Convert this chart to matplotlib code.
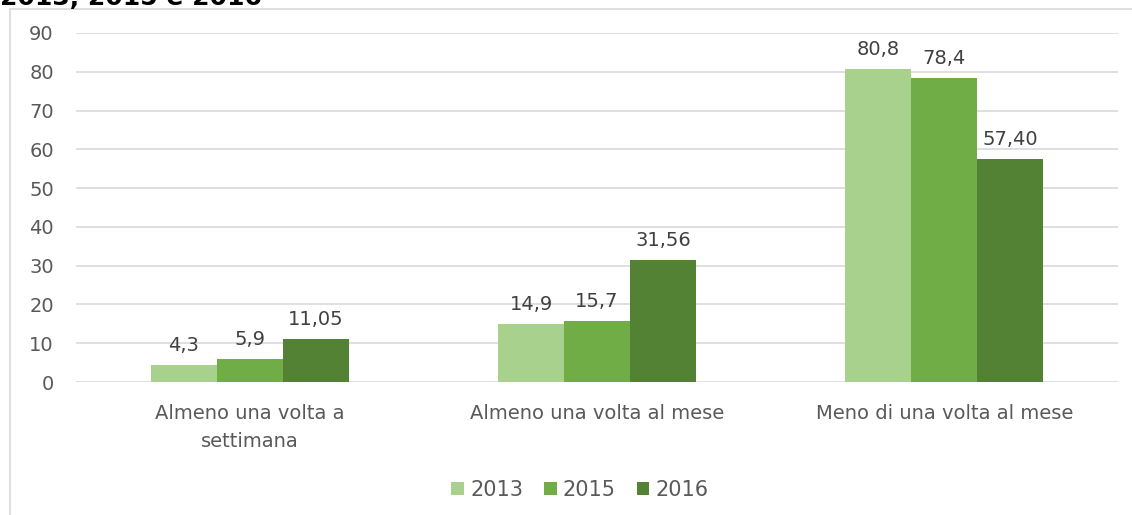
import matplotlib
matplotlib.use("Agg")
import matplotlib.pyplot as plt
from matplotlib.patches import Rectangle
import numpy as np

categories = ["Almeno una volta a\nsettimana", "Almeno una volta al mese", "Meno di una volta al mese"]
years = ["2013", "2015", "2016"]
v2013 = [4.3, 14.9, 80.8]
v2015 = [5.9, 15.7, 78.4]
v2016 = [11.05, 31.56, 57.40]
labels2013 = ["4,3", "14,9", "80,8"]
labels2015 = ["5,9", "15,7", "78,4"]
labels2016 = ["11,05", "31,56", "57,40"]
colors = ["#A9D18E", "#70AD47", "#548235"]

plt.rcParams['font.family'] = ['DejaVu Sans']
fig = plt.figure(figsize=(11.32, 5.15), dpi=100)

# chart frame
fig.patches.append(Rectangle((10/1132, -0.01), 1.2, 1 - 9/515 + 0.01, transform=fig.transFigure,
                             fill=False, edgecolor="#D9D9D9", linewidth=1.2))
fig.text(0.0, 1.0 - 5/515, "2013, 2015 e 2016", fontsize=18, fontweight="bold", color="#000000",
         ha="left", va="baseline")

ax = fig.add_axes([76/1132, 1 - 382/515, (1118 - 76)/1132, (382 - 33)/515])
x = np.arange(len(categories))
w = 0.19
series = [v2013, v2015, v2016]
lbls = [labels2013, labels2015, labels2016]
for i, (vals, lab, c, y) in enumerate(zip(series, lbls, colors, years)):
    bars = ax.bar(x + (i - 1) * w, vals, width=w, color=c, label=y, zorder=3)
    for b, t in zip(bars, lab):
        ax.text(b.get_x() + b.get_width() / 2, b.get_height() + 2.6, t, ha="center", va="bottom",
                fontsize=14, color="#404040")

ax.set_xlim(-0.5, 2.5)
ax.set_ylim(0, 90)
ax.set_yticks(range(0, 91, 10))
ax.yaxis.grid(True, color="#D9D9D9", linewidth=1.2, zorder=0)
ax.set_axisbelow(True)
for s in ax.spines.values():
    s.set_visible(False)
ax.tick_params(axis="both", length=0, labelsize=14, colors="#595959")
ax.tick_params(axis="y", pad=16)
ax.set_xticks(x)
ax.set_xticklabels(categories, fontsize=14, color="#595959", linespacing=1.6)
ax.tick_params(axis="x", pad=16)

leg = fig.legend(loc="center", bbox_to_anchor=(580/1132, 1 - 490/515), ncol=3, frameon=False,
                 fontsize=15, handlelength=0.6, handleheight=0.6, handletextpad=0.3, columnspacing=1.0,
                 labelcolor="#595959")

fig.savefig("out.png", dpi=100)
